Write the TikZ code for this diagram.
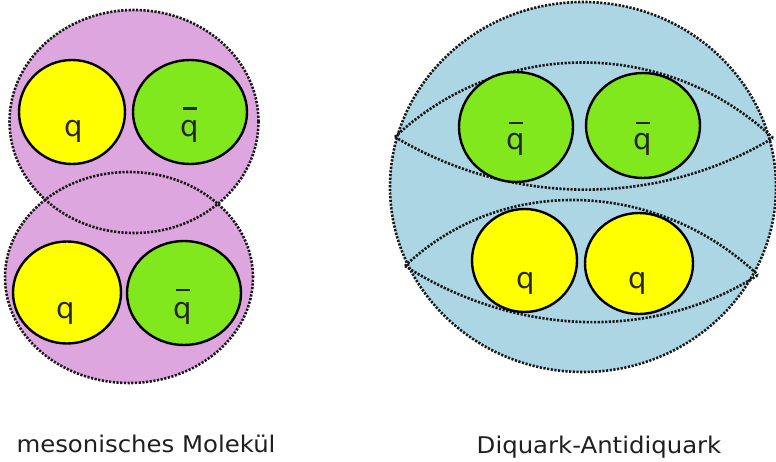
\documentclass[tikz,border=0pt]{standalone}
\usepackage{fontspec}
\setmainfont{DejaVu Sans}
\definecolor{pinkfill}{RGB}{221,166,222}
\definecolor{bluefill}{RGB}{172,214,228}
\definecolor{qyellow}{RGB}{255,255,0}
\definecolor{qgreen}{RGB}{128,232,28}
\tikzset{
  hull/.style={draw=black!90, line width=2.6pt, dash pattern=on 2.2pt off 1.5pt},
  quarkball/.style={draw=black, line width=2.4pt},
  qtext/.style={anchor=base, inner sep=0pt, text=black!85, font=\fontsize{29}{31}\selectfont},
  qbarline/.style={draw=black!85, line width=2.2pt},
  caption/.style={anchor=base, inner sep=0pt, text=black!88, font=\fontsize{23}{26}\selectfont}
}
\begin{document}
\begin{tikzpicture}[x=1pt,y=-1pt]
\useasboundingbox (0,0) rectangle (776,462);
% ---------- left: mesonic molecule ----------
\fill[pinkfill] (134,121.5) ellipse [x radius=124.5pt, y radius=111.5pt];
\fill[pinkfill] (129,277.5) ellipse [x radius=124pt, y radius=105.5pt];
\draw[hull] (134,121.5) ellipse [x radius=124.5pt, y radius=111.5pt];
\draw[hull] (129,277.5) ellipse [x radius=124pt, y radius=105.5pt];
\filldraw[quarkball, fill=qyellow] (72,112) ellipse [x radius=53pt, y radius=52pt];
\filldraw[quarkball, fill=qgreen] (190,112) ellipse [x radius=57pt, y radius=52pt];
\filldraw[quarkball, fill=qyellow] (67,292.5) ellipse [x radius=54pt, y radius=51pt];
\filldraw[quarkball, fill=qgreen] (184,293) ellipse [x radius=57pt, y radius=52pt];
\node[qtext] (lq1) at (73.5,137) {q};
\node[qtext] (lq2) at (189.5,137) {q};
\node[qtext] (lq3) at (66,318) {q};
\node[qtext] (lq4) at (182.5,318) {q};
\draw[qbarline] ([xshift=-7pt,yshift=28.5pt]lq2.base) -- ([xshift=7pt,yshift=28.5pt]lq2.base);
\draw[qbarline] ([xshift=-7pt,yshift=28pt]lq4.base) -- ([xshift=7pt,yshift=28pt]lq4.base);
% ---------- right: diquark-antidiquark ----------
\filldraw[hull, fill=bluefill] (583,187) ellipse [x radius=193pt, y radius=185pt];
\coordinate (ua) at (395,137);
\coordinate (ub) at (773,138);
\coordinate (la) at (405,266);
\coordinate (lb) at (758,275);
\draw[hull] (ua) .. controls (501,37) and (667,38) .. (ub);
\draw[hull] (ua) .. controls (511.6,206.5) and (656.4,207.5) .. (ub);
\draw[hull] (la) .. controls (503.9,172.2) and (659.1,181.2) .. (lb);
\draw[hull] (la) .. controls (512.7,334.6) and (650.3,343.6) .. (lb);
\filldraw[quarkball, fill=qgreen] (516,127) ellipse [x radius=57pt, y radius=55pt];
\filldraw[quarkball, fill=qgreen] (643,125.5) ellipse [x radius=57pt, y radius=52.5pt];
\filldraw[quarkball, fill=qyellow] (524.5,260.5) ellipse [x radius=52.5pt, y radius=51.5pt];
\filldraw[quarkball, fill=qyellow] (639,263.5) ellipse [x radius=54pt, y radius=50.5pt];
\node[qtext] (rq1) at (515.5,150) {q};
\node[qtext] (rq2) at (642.5,150) {q};
\node[qtext] (rq3) at (525.5,288) {q};
\node[qtext] (rq4) at (637.5,288) {q};
\draw[qbarline] ([xshift=-7pt,yshift=27.3pt]rq1.base) -- ([xshift=7pt,yshift=27.3pt]rq1.base);
\draw[qbarline] ([xshift=-7pt,yshift=27.3pt]rq2.base) -- ([xshift=7pt,yshift=27.3pt]rq2.base);
% ---------- captions ----------
\node[caption] (capl) at (146,452) {\scalebox{1.06}[1]{mesonisches Molekül}};
\node[caption] (capr) at (599,453) {\scalebox{1.06}[1]{Diquark-Antidiquark}};
\end{tikzpicture}
\end{document}
